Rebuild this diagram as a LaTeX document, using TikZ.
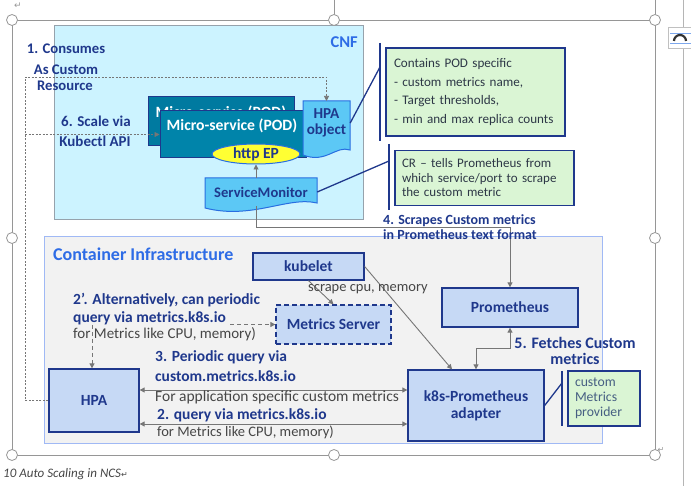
\documentclass[tikz,border=0pt]{standalone}
\usepackage{fontspec}
\setmainfont{Carlito}
\newfontfamily\symf{DejaVu Sans}
\usetikzlibrary{arrows.meta,shapes.geometric,calc}
\newcommand\fsz[2]{\fontsize{#1}{#2}\selectfont}
\definecolor{dkblue}{RGB}{31,56,140}
\definecolor{ttlblue}{RGB}{46,108,230}
\definecolor{cnffill}{RGB}{204,243,255}
\definecolor{cnfdraw}{RGB}{150,162,172}
\definecolor{infill}{RGB}{242,242,242}
\definecolor{indraw}{RGB}{160,185,245}
\definecolor{nodefill}{RGB}{198,217,245}
\definecolor{greenfill}{RGB}{218,245,212}
\definecolor{podfill}{RGB}{0,132,170}
\definecolor{podback}{RGB}{0,122,160}
\definecolor{docfill}{RGB}{92,200,245}
\definecolor{docdraw}{RGB}{40,110,225}
\definecolor{arr}{RGB}{118,118,118}
\definecolor{txtgrey}{RGB}{70,70,70}
\definecolor{calltxt}{RGB}{45,55,70}
\definecolor{provtxt}{RGB}{70,95,130}
\definecolor{framec}{RGB}{150,150,150}
\definecolor{epfill}{RGB}{255,255,51}
\tikzset{
  box/.style={draw=dkblue, fill=nodefill, line width=1.3pt, inner sep=0pt,
    font=\fsz{15.5}{17}\bfseries, text=dkblue, align=center},
  numlbl/.style={text=dkblue, font=\fsz{15.5}{17}\bfseries, inner sep=0pt, anchor=west, align=left},
  greylbl/.style={text=txtgrey, font=\fsz{14.5}{16}, inner sep=0pt, anchor=west},
  callout/.style={draw=dkblue, fill=greenfill, line width=1.2pt, inner sep=0pt, align=left, text=calltxt},
  bracket/.style={draw=dkblue, line width=1.3pt},
  doc/.style={draw=docdraw, fill=docfill, line width=1pt},
  arrline/.style={draw=arr, line width=0.9pt},
  arrtip/.style={-{Triangle[length=5pt,width=5pt]}},
  dblarr/.style={{Triangle[length=5pt,width=5pt]}-{Triangle[length=5pt,width=5pt]}},
  dotline/.style={draw=arr, line width=0.7pt, dash pattern=on 2pt off 1.5pt},
  dashline/.style={draw=arr, line width=1pt, dash pattern=on 4pt off 3pt},
  framel/.style={draw=framec, line width=0.8pt},
}
\begin{document}
\begin{tikzpicture}[x=1pt,y=-1pt]
\useasboundingbox (0,0) rectangle (691,486);
% Word frame
\draw[framel] (12,20) rectangle (655,455);
\draw[framel] (334,0) -- (334,20);
\draw[framel] (655,0) -- (655,20);
\draw[draw=framec!70, line width=0.6pt] (683,0) -- (683,486);
\node[inner sep=0pt, text=framec, font=\symf\fsz{9}{10}] (retA) at (18,6) {↵};
\node[inner sep=0pt, text=framec, font=\symf\fsz{8}{10}] (retB) at (661,450) {↵};
% layout icon
\draw[draw=framec!60, fill=white, line width=0.6pt] (668,27) rectangle (691,48);
\draw[draw=docdraw!60, line width=0.6pt] (670,33) -- (691,33) (670,43) -- (691,43);
\draw[line width=2.2pt, black!80] (674,41) arc[start angle=180, end angle=0, radius=6pt];
% CNF
\node[draw=cnfdraw, fill=cnffill, line width=1pt, minimum width=309, minimum height=194, inner sep=0pt] (cnf) at (208.5,123) {};
\node[text=ttlblue, font=\fsz{16.5}{18}\bfseries, anchor=east, inner sep=0pt] (cnfl) at (358,42) {CNF};
% Container infrastructure
\node[draw=indraw, fill=infill, line width=1pt, minimum width=558, minimum height=206, inner sep=0pt] (infra) at (323,340) {};
\node[text=ttlblue, font=\fsz{18}{20}\bfseries, anchor=west, inner sep=0pt] (infral) at (53,254) {Container Infrastructure};
% PODs
\node[draw=dkblue, fill=podback, line width=1pt, minimum width=146, minimum height=49, inner sep=0pt] (podb) at (221,121.5) {};
\node[text=white, font=\fsz{15.7}{17}\bfseries, inner sep=0pt] (podbt) at (221,113) {Micro-service (POD)};
\node[draw=dkblue, fill=podfill, line width=1pt, minimum width=146, minimum height=47, inner sep=0pt] (podf) at (233,134.5) {};
\node[text=white, font=\fsz{15.7}{17}\bfseries, inner sep=0pt] (podt) at (232,126) {Micro-service (POD)};
\node[ellipse, draw=docdraw, fill=epfill, line width=1pt, minimum width=88, minimum height=20, inner sep=0pt, text=dkblue, font=\fsz{15.5}{17}\bfseries] (ep) at (256,154) {http EP};
% HPA object
\draw[doc] (303,101) -- (350,101) -- (350,150) .. controls (336,145) and (326,164) .. (303,155) -- cycle;
\node[inner sep=0pt, minimum width=47, minimum height=44, text=dkblue, font=\fsz{15.2}{16}\bfseries, align=center] (hpaobj) at (326.5,123) {HPA\\object};
% ServiceMonitor
\draw[doc] (205,178) -- (317,178) -- (317,203) .. controls (288,196) and (252,220) .. (205,208) -- cycle;
\node[inner sep=0pt, minimum width=112, minimum height=28, text=dkblue, font=\fsz{14.6}{16}\bfseries] (sm) at (261,192) {ServiceMonitor};
\draw[arrline, arrtip] (ep.south |- sm.north) -- (ep.south);
% callouts
\node[callout, minimum width=179, minimum height=88, text width=163, font=\fsz{13.1}{18.7}] (co1) at (475.5,92) {Contains POD specific\\- custom metrics name,\\- Target thresholds,\\- min and max replica counts};
\draw[bracket] (380,43) -- (380,141);
\coordinate (br1) at (380,67);
\draw[bracket] (hpaobj.east) -- (br1);
\node[callout, minimum width=179, minimum height=55, text width=165, font=\fsz{13}{14.5}] (co2) at (484.5,178) {CR – tells Prometheus from\\which service/port to scrape\\the custom metric};
\draw[bracket] (389,144) -- (389,210);
\coordinate (br2) at (389,161);
\draw[bracket] (sm.east) -- (br2);
% infra nodes
\node[box, minimum width=111, minimum height=27] (kubelet) at (308.5,266.5) {kubelet};
\node[box, dashed, dash pattern=on 5pt off 3pt, minimum width=115, minimum height=39] (ms) at (333.5,324.5) {Metrics Server};
\node[box, minimum width=136, minimum height=39] (prom) at (510,307.5) {Prometheus};
\node[box, minimum width=136, minimum height=71] (adapter) at (476,405.5) {k8s-Prometheus\\adapter};
\node[box, minimum width=90, minimum height=63] (hpa) at (94,400.5) {HPA};
\node[callout, line width=2pt, minimum width=72, minimum height=55, text width=58, font=\fsz{13.7}{15}, text=provtxt] (co3) at (604,398.5) {custom\\Metrics\\provider};
\draw[bracket] (562,371) -- (562,426);
\coordinate (br3) at (562,383);
\draw[bracket] (adapter.east) -- (br3);
% connectors
\draw[arrline, arrtip] (ep.south |- sm.south) |- (prom.north |- 0,227) -- (prom.north);
\draw[arrline, arrtip] (kubelet.south) -- (ms.north);
\draw[arrline, arrtip] (kubelet.east) -- ($(adapter.north)+(-24,0)$);
\draw[arrline, dblarr] (prom.south) -- (prom.south |- 0,348) -| (adapter.north);
\draw[arrline, dblarr] (hpa.east |- 0,390) -- (adapter.west |- 0,390);
\draw[arrline, dblarr] (hpa.east |- 0,424) -- (adapter.west |- 0,424);
\coordinate (d2a) at (230,324.5);
\draw[dashline, arrtip] (d2a) -- (ms.west);
\coordinate (d2b) at (92,325);
\draw[dashline, arrtip] (d2b) -- (d2b |- hpa.north);
% dotted consume / scale lines
\coordinate (c1) at (25,77);
\draw[dotline, arrtip] (hpa.west) -| (c1) -| (hpaobj.north |- 0,101);
\coordinate (c6) at (25,134.5);
\draw[dotline, arrtip] (c6) -- (podf.west);
% labels
\node[numlbl, font=\fsz{14.7}{16}\bfseries, anchor=center] (l1a) at (66,49) {1. Consumes};
\node[numlbl, font=\fsz{14.7}{16}\bfseries, anchor=center] (l1b) at (66,70) {As Custom};
\node[numlbl, font=\fsz{14.7}{16}\bfseries, anchor=center] (l1c) at (65,86) {Resource};
\node[numlbl, font=\fsz{15}{16}\bfseries, anchor=center] (l6a) at (96,121) {6. Scale via};
\node[numlbl, font=\fsz{15}{16}\bfseries, anchor=center] (l6b) at (95,141) {Kubectl API};
\node[numlbl, font=\fsz{14}{15}\bfseries] (l4) at (383,227.5) {4. Scrapes Custom metrics\\in Prometheus text format};
\node[greylbl] (lsc) at (308,289) {scrape cpu, memory};
\node[numlbl] (l2pa) at (73,300) {2’. Alternatively, can periodic};
\node[numlbl] (l2pb) at (73,318) {query via metrics.k8s.io};
\node[greylbl, font=\fsz{15}{16}] (l2pc) at (73,334) {for Metrics like CPU, memory)};
\node[numlbl, font=\fsz{16}{16}\bfseries, align=center, anchor=center] (l5) at (575,351) {5. Fetches Custom\\metrics};
\node[numlbl] (l3a) at (155,357) {3. Periodic query via};
\node[numlbl] (l3b) at (155,376) {custom.metrics.k8s.io};
\node[greylbl, font=\fsz{15.5}{16}] (l3c) at (155,397) {For application specific custom metrics};
\node[numlbl] (l2a) at (157,415) {2. query via metrics.k8s.io};
\node[greylbl] (l2b) at (157,432) {for Metrics like CPU, memory)};
% frame handles
\foreach \hx/\hy in {12/20,334/20,655/20,12/238,655/238,12/455,334/455,655/455}
  \draw[framel, fill=white] (\hx,\hy) circle[radius=5.5pt];
% caption
\node[inner sep=0pt, anchor=west, text=txtgrey, font=\fsz{13}{14}\itshape] (cap) at (3,474) {10 Auto Scaling in NCS{\symf\fsz{8}{10}↵}};
\end{tikzpicture}
\end{document}
